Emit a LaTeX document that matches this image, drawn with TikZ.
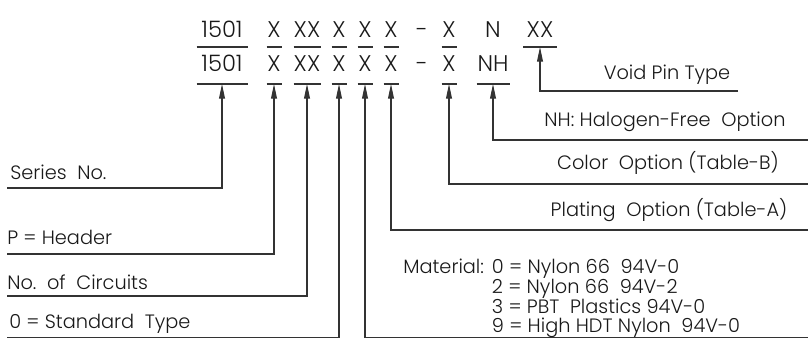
\documentclass[tikz,border=0pt]{standalone}
\usepackage{fontspec}
\setmainfont{Poppins Light}
\usepackage{tikz}
\usetikzlibrary{arrows.meta}

\begin{document}
\begin{tikzpicture}[
    x=0.75pt,y=-0.75pt,>={Triangle[length=11pt,width=4.4pt]},
    font=\fontsize{14.5}{16}\selectfont,
    pointer/.style={->,line width=0.8pt,draw=black!80},
    rule/.style={line width=0.8pt,draw=black!80},
    code/.style={inner sep=0pt,anchor=base,font=\fontsize{17}{20}\selectfont,text=black!90},
    label/.style={inner sep=0pt,anchor=base west,text=black!90}
]
\useasboundingbox (0,0) rectangle (808,338);
% Part number, upper line.
\foreach \id/\txt/\x/\w in {1501/1501/222/51,head/X/274/15,circ/XX/307/27,
    type/X/339/15,matl/X/365/15,plat/X/391/15,colr/X/449/15,pin/XX/540/34}{
    \node[code] (t-\id) at (\x,38) {\txt};
    \draw[rule] (\x-\w/2,47) -- (\x+\w/2,47);
}
\node[code] (t-dash) at (422,38) {-};
\node[code] (t-halo) at (493,38) {N};
\coordinate (t-pin-u) at (540,47);
% Part number, lower line.
\foreach \id/\txt/\x/\w in {1501/1501/222/51,head/X/274/15,circ/XX/307/27,
    type/X/339/15,matl/X/365/15,plat/X/391/15,colr/X/449/15,halo/NH/493/33}{
    \node[code] (b-\id) at (\x,72) {\txt};
    \draw[rule] (\x-\w/2,84) -- (\x+\w/2,84);
    \coordinate (b-\id-u) at (\x,84);
}
\node[code] (b-dash) at (422,72) {-};
% Left-hand labels.
\foreach \id/\txt/\x/\y/\ly in {1501/Series\ \ No./10/180/188,
    head/P = Header/7/245/254,
    circ/No.\ \ of\ \ Circuits/7/290/296,
    type/0 = Standard\ \ Type/9/329/338}{
    \node[label] (lbl-\id) at (\x,\y) {\txt};
    \coordinate (l-\id) at (7,\ly);
    \draw[pointer] (l-\id) -| (b-\id-u);
}
% Right-hand labels, centred over their lines.
\node[label,anchor=base] (lbl-pin) at (667,80) {Void Pin Type};
\coordinate (r-pin) at (738,91);
\draw[pointer] (r-pin) -| (t-pin-u);
\foreach \id/\txt/\x/\y/\ly in {halo/NH: Halogen-Free\ \ Option/665/127/140,
    colr/Color\ \ Option (Table-B)/668/170/184,
    plat/Plating\ \ Option (Table-A)/669/217/230}{
    \node[label,anchor=base] (lbl-\id) at (\x,\y) {\txt};
    \coordinate (r-\id) at (808,\ly);
    \draw[pointer] (r-\id) -| (b-\id-u);
}
% Material table.
\node[label,font=\fontsize{14.5}{12.7}\selectfont] (lbl-matl) at (403,274)
    {\begin{tabular}[t]{@{}l@{\hspace{6pt}}l@{}}
    Material: & 0 = Nylon 66\ \ 94V-0\\
              & 2 = Nylon 66\ \ 94V-2\\
              & 3 = PBT\ \ Plastics 94V-0\\
              & 9 = High HDT Nylon\ \ 94V-0
    \end{tabular}};
\coordinate (r-matl) at (808,338);
\draw[pointer] (r-matl) -| (b-matl-u);
\end{tikzpicture}
\end{document}
